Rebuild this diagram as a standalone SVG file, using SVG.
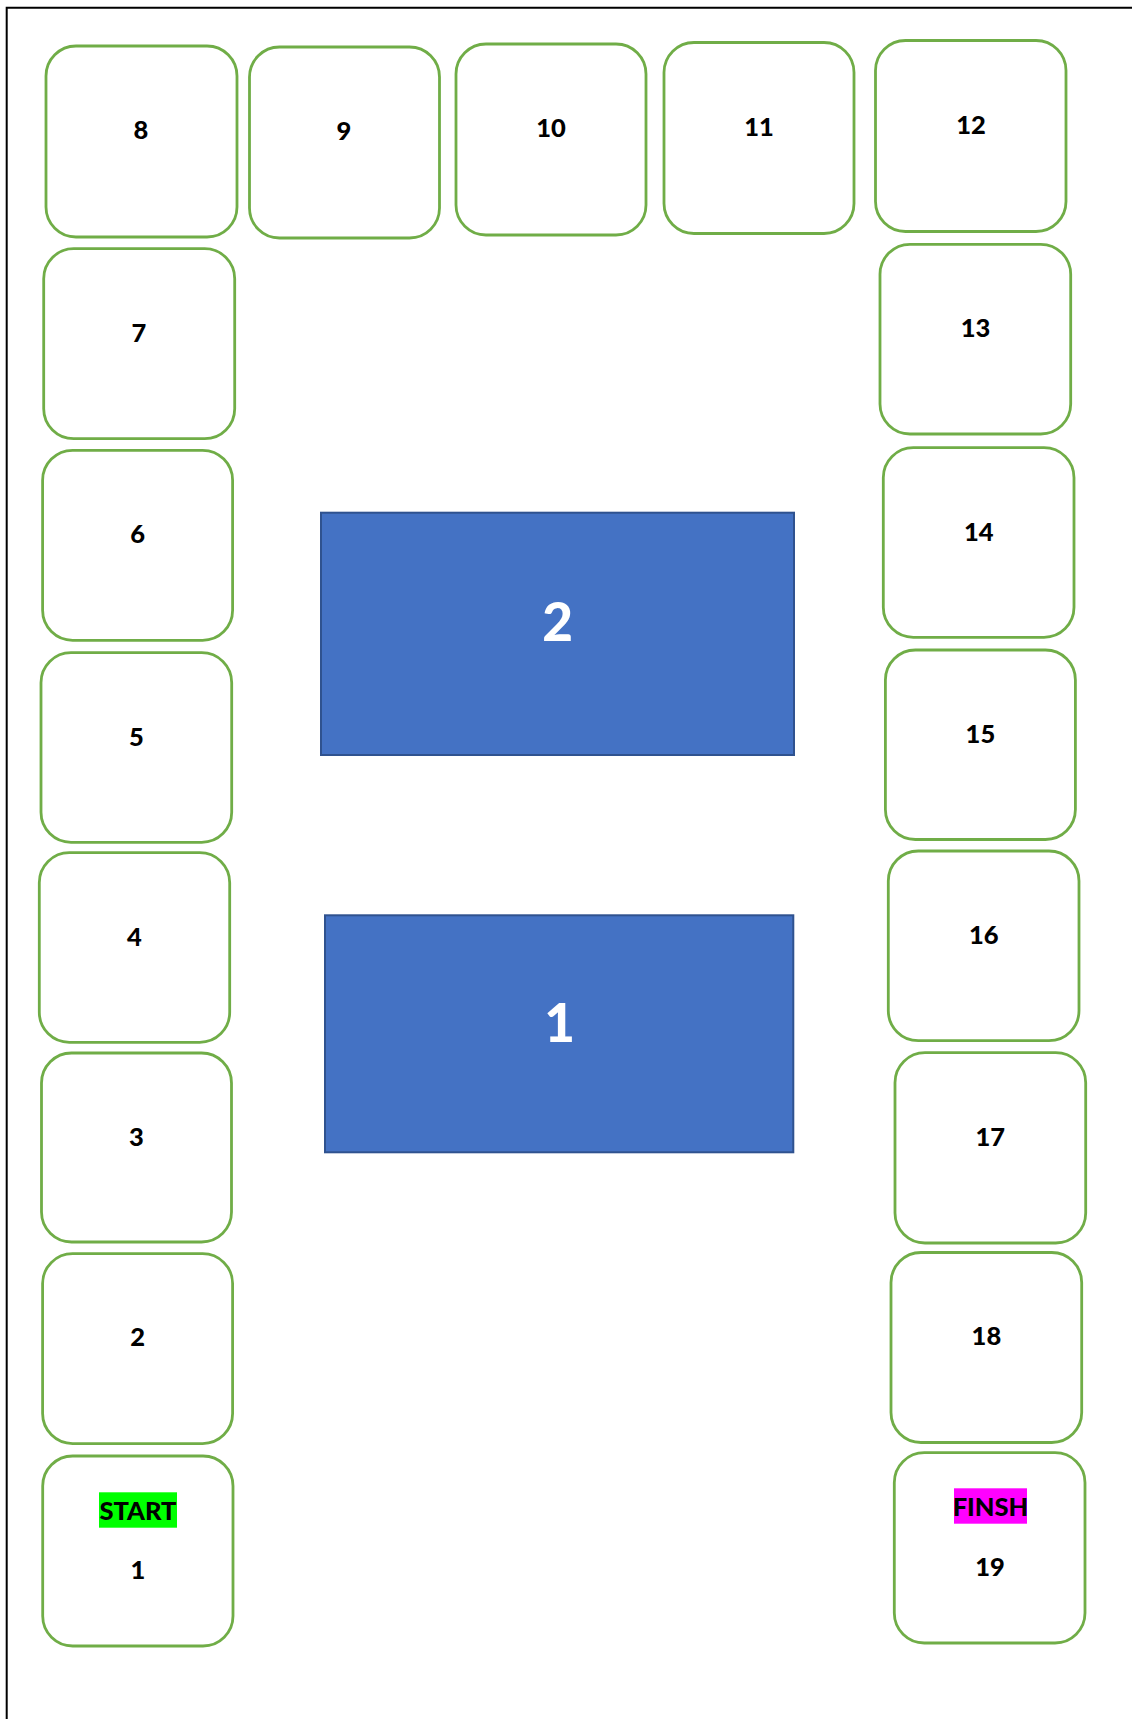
<svg xmlns="http://www.w3.org/2000/svg" width="1132" height="1719" viewBox="0 0 1132 1719">
<style>
.sq{fill:#FFFFFF;stroke:#70AD47;stroke-width:2.8}
.blk{fill:#4472C4;stroke:#2F528F;stroke-width:2}
.t{font-family:Lato,"Open Sans","Liberation Sans",sans-serif;font-weight:900;font-size:25.5px;fill:#000000;text-anchor:middle}
.bt{font-family:Lato,"Open Sans","Liberation Sans",sans-serif;font-weight:900;font-size:53px;fill:#FFFFFF;text-anchor:middle}
</style>
<rect x="0" y="0" width="1132" height="1719" fill="#FFFFFF"/>
<path d="M6.7,1719 V7.7 H1132" fill="none" stroke="#000000" stroke-width="2"/>
<g id="connectors"></g>
<g id="sq8"><rect class="sq" x="46" y="46" width="191" height="191" rx="30"/><text class="t" x="141" y="139">8</text></g>
<g id="sq9"><rect class="sq" x="249.5" y="47" width="190" height="191" rx="30"/><text class="t" x="344" y="140">9</text></g>
<g id="sq10"><rect class="sq" x="456" y="44" width="190" height="191" rx="30"/><text class="t" x="551" y="137">10</text></g>
<g id="sq11"><rect class="sq" x="664" y="42.5" width="190" height="191" rx="30"/><text class="t" x="759" y="135.5">11</text></g>
<g id="sq12"><rect class="sq" x="875.5" y="40.5" width="190.5" height="191" rx="30"/><text class="t" x="971" y="134">12</text></g>
<g id="sq7"><rect class="sq" x="43.7" y="248.7" width="191" height="190" rx="30"/><text class="t" x="139" y="341.5">7</text></g>
<g id="sq6"><rect class="sq" x="42.6" y="450.3" width="190" height="190" rx="30"/><text class="t" x="137.6" y="543">6</text></g>
<g id="sq5"><rect class="sq" x="41" y="652.7" width="190.7" height="189.6" rx="30"/><text class="t" x="136.3" y="745.5">5</text></g>
<g id="sq4"><rect class="sq" x="39.3" y="852.7" width="190.4" height="189.6" rx="30"/><text class="t" x="134.5" y="945.5">4</text></g>
<g id="sq3"><rect class="sq" x="41.5" y="1053" width="190" height="189" rx="30"/><text class="t" x="136.5" y="1145.5">3</text></g>
<g id="sq2"><rect class="sq" x="42.6" y="1253.6" width="190" height="190" rx="30"/><text class="t" x="137.6" y="1346">2</text></g>
<g id="sq1"><rect class="sq" x="42.7" y="1456" width="190.3" height="190" rx="30"/><rect x="99" y="1492.3" width="78" height="35.4" fill="#00FF00"/><text class="t" x="138" y="1520">START</text><text class="t" x="137.8" y="1579.3">1</text></g>
<g id="sq13"><rect class="sq" x="880" y="244.3" width="190.7" height="189.7" rx="30"/><text class="t" x="975.5" y="337.3">13</text></g>
<g id="sq14"><rect class="sq" x="883.3" y="447.7" width="190.7" height="189.6" rx="30"/><text class="t" x="978.7" y="540.7">14</text></g>
<g id="sq15"><rect class="sq" x="885.4" y="650" width="190" height="189.5" rx="30"/><text class="t" x="980.4" y="743">15</text></g>
<g id="sq16"><rect class="sq" x="888.3" y="851" width="190.7" height="189.7" rx="30"/><text class="t" x="983.7" y="944">16</text></g>
<g id="sq17"><rect class="sq" x="895" y="1052.7" width="190.7" height="190.3" rx="30"/><text class="t" x="990.3" y="1145.5">17</text></g>
<g id="sq18"><rect class="sq" x="891" y="1252.5" width="190.7" height="190" rx="30"/><text class="t" x="986.4" y="1345">18</text></g>
<g id="sq19"><rect class="sq" x="894.3" y="1452.7" width="190.7" height="190.3" rx="30"/><rect x="954" y="1488.3" width="73" height="35.4" fill="#FF00FF"/><text class="t" x="990.5" y="1516">FINSH</text><text class="t" x="990" y="1576">19</text></g>
<g id="block2"><rect class="blk" x="321" y="512.7" width="473" height="242.3"/><text class="bt" x="557.5" y="640.7">2</text></g>
<g id="block1"><rect class="blk" x="325" y="915.3" width="468.3" height="237"/><text class="bt" x="559.5" y="1041.7">1</text></g>
</svg>
